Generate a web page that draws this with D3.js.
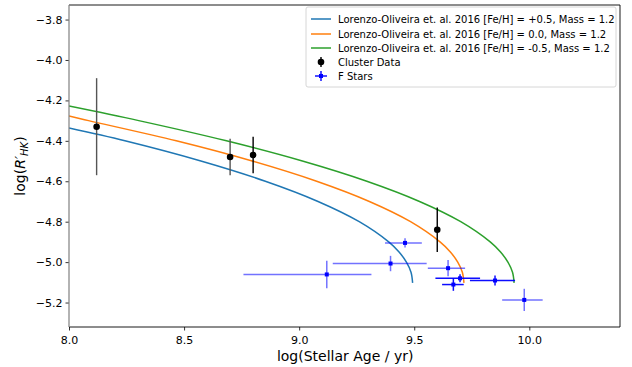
<!DOCTYPE html>
<html>
<head>
<meta charset="utf-8">
<script src="https://cdn.jsdelivr.net/npm/d3@7/dist/d3.min.js"></script>
<style>
  body { margin: 0; background: #fff; }
  text { font-family: "DejaVu Sans", sans-serif; }
</style>
</head>
<body>
<div id="chart-area"></div>
<script>
// model curves (log age, log R'HK)
var bluePlusAge  = [8.000, 8.243, 8.573, 8.853, 9.082, 9.261, 9.389, 9.434, 9.466, 9.486, 9.493];
var bluePlusR    = [-4.337, -4.40, -4.50, -4.60, -4.70, -4.80, -4.90, -4.95, -5.00, -5.05, -5.103];
var orangeSolAge = [8.000, 8.085, 8.466, 8.796, 9.076, 9.305, 9.484, 9.612, 9.657, 9.689, 9.709, 9.716];
var orangeSolR   = [-4.277, -4.30, -4.40, -4.50, -4.60, -4.70, -4.80, -4.90, -4.95, -5.00, -5.05, -5.103];
var greenMinAge  = [8.000, 8.303, 8.684, 9.014, 9.294, 9.523, 9.702, 9.830, 9.875, 9.907, 9.927, 9.934];
var greenMinR    = [-4.228, -4.30, -4.40, -4.50, -4.60, -4.70, -4.80, -4.90, -4.95, -5.00, -5.05, -5.103];

var modelNames = [
  "Lorenzo-Oliveira et. al. 2016 [Fe/H] = +0.5, Mass = 1.2",
  "Lorenzo-Oliveira et. al. 2016 [Fe/H] = 0.0, Mass = 1.2",
  "Lorenzo-Oliveira et. al. 2016 [Fe/H] = -0.5, Mass = 1.2"
];

// cluster data
var clusterAge = [8.12, 8.70, 8.80, 9.60];
var clusterR   = [-4.33, -4.48, -4.47, -4.84];
var clusterErr = [0.24, 0.09, 0.09, 0.11];

// F stars: age, log R'HK, age err (low / high), R err
var fAge   = [9.460, 9.397, 9.120, 9.647, 9.978];
var fR     = [-4.905, -5.007, -5.061, -5.030, -5.187];
var fAgeLo = [0.087, 0.251, 0.362, 0.088, 0.096];
var fAgeHi = [0.073, 0.157, 0.194, 0.074, 0.080];
var fRErr  = [0.023, 0.038, 0.068, 0.040, 0.055];

var f2Age   = [9.699, 9.670, 9.851];
var f2R     = [-5.080, -5.111, -5.091];
var f2AgeLo = [0.107, 0.049, 0.109];
var f2AgeHi = [0.087, 0.045, 0.087];
var f2RErr  = [0.020, 0.031, 0.025];

var xTicks = [8.0, 8.5, 9.0, 9.5, 10.0];
var yTicks = [-5.2, -5.0, -4.8, -4.6, -4.4, -4.2, -4.0, -3.8];

var margin = {left: 69, right: 12, top: 5, bottom: 40};
var W = 632, H = 367;
var width = W - margin.left - margin.right;
var height = H - margin.top - margin.bottom;

var svg = d3.select("#chart-area").append("svg")
  .attr("width", W).attr("height", H);

var g = svg.append("g")
  .attr("transform", "translate(" + margin.left + "," + margin.top + ")");

var x = d3.scaleLinear().domain([8.0, 10.394]).range([0, width]);
var y = d3.scaleLinear().domain([-5.321, -3.728]).range([height, 0]);

g.append("clipPath").attr("id", "clip")
  .append("rect").attr("width", width).attr("height", height);

var plot = g.append("g").attr("clip-path", "url(#clip)");

// model lines
var models = [
  {age: bluePlusAge, r: bluePlusR, color: "#1f77b4"},
  {age: orangeSolAge, r: orangeSolR, color: "#ff7f0e"},
  {age: greenMinAge, r: greenMinR, color: "#2ca02c"}
];
var line = d3.line()
  .x(function(d){ return x(d[0]); })
  .y(function(d){ return y(d[1]); })
  .curve(d3.curveCatmullRom);

models.forEach(function(m){
  var pts = m.age.map(function(a, i){ return [a, m.r[i]]; });
  plot.append("path")
    .attr("d", line(pts))
    .attr("fill", "none")
    .attr("stroke", m.color)
    .attr("stroke-width", 1.5);
});

// cluster points
clusterAge.forEach(function(a, i){
  plot.append("line")
    .attr("x1", x(a)).attr("x2", x(a))
    .attr("y1", y(clusterR[i] + clusterErr[i]))
    .attr("y2", y(clusterR[i] - clusterErr[i]))
    .attr("stroke", i < 2 ? "#555" : "#000")
    .attr("stroke-width", 1.4);
  plot.append("circle")
    .attr("cx", x(a)).attr("cy", y(clusterR[i]))
    .attr("r", 3.3).attr("fill", "#000");
});

// F stars
function drawStars(ages, rs, lo, hi, rerr, alpha){
  ages.forEach(function(a, i){
    var grp = plot.append("g").attr("opacity", alpha);
    grp.append("line")
      .attr("x1", x(a - lo[i])).attr("x2", x(a + hi[i]))
      .attr("y1", y(rs[i])).attr("y2", y(rs[i]))
      .attr("stroke", "#0000ff").attr("stroke-width", 1.5);
    grp.append("line")
      .attr("x1", x(a)).attr("x2", x(a))
      .attr("y1", y(rs[i] + rerr[i])).attr("y2", y(rs[i] - rerr[i]))
      .attr("stroke", "#0000ff").attr("stroke-width", 1.5);
    plot.append("rect")
      .attr("x", x(a) - 2).attr("y", y(rs[i]) - 2)
      .attr("width", 4).attr("height", 4)
      .attr("fill", "#0000ff");
  });
}
drawStars(fAge, fR, fAgeLo, fAgeHi, fRErr, 0.55);
drawStars(f2Age, f2R, f2AgeLo, f2AgeHi, f2RErr, 0.95);

// axes
var xAxis = d3.axisBottom(x).tickValues(xTicks).tickFormat(d3.format(".1f")).tickSizeOuter(0).tickSize(3.5);
var yAxis = d3.axisLeft(y).tickValues(yTicks).tickFormat(d3.format(".1f")).tickSizeOuter(0).tickSize(3.5);

var xg = g.append("g").attr("transform", "translate(0," + height + ")").call(xAxis);
var yg = g.append("g").call(yAxis);
[xg, yg].forEach(function(ax){
  ax.select(".domain").remove();
  ax.selectAll("text").attr("font-size", "11px").attr("fill", "#000")
    .style("font-family", "DejaVu Sans, sans-serif");
  ax.selectAll("line").attr("stroke", "#000").attr("stroke-width", 0.8);
});
xg.selectAll("text").attr("dy", "0.95em");

// frame
g.append("line").attr("x1", 0).attr("x2", width).attr("y1", 0).attr("y2", 0).attr("stroke", "#000").attr("stroke-width", 0.9);
g.append("line").attr("x1", width).attr("x2", width).attr("y1", 0).attr("y2", height).attr("stroke", "#000").attr("stroke-width", 0.9);
g.append("line").attr("x1", 0).attr("x2", width).attr("y1", height).attr("y2", height).attr("stroke", "#000").attr("stroke-width", 0.9);
g.append("line").attr("x1", 0).attr("x2", 0).attr("y1", 0).attr("y2", height).attr("stroke", "#808080").attr("stroke-width", 1.2);

// axis labels
svg.append("text")
  .attr("x", margin.left + x(9.0) + 46).attr("y", 361)
  .attr("text-anchor", "middle").attr("font-size", "14px")
  .text("log(Stellar Age / yr)");

var yl = svg.append("text")
  .attr("transform", "translate(25," + (margin.top + height / 2) + ") rotate(-90)")
  .attr("text-anchor", "middle").attr("font-size", "14px");
yl.append("tspan").text("log(");
yl.append("tspan").attr("font-style", "italic").text("R′");
yl.append("tspan").attr("font-style", "italic").attr("font-size", "10px").attr("dy", "3").text("HK");
yl.append("tspan").attr("dy", "-3").text(")");

// legend
var lg = svg.append("g").attr("transform", "translate(306,7)");
lg.append("rect").attr("width", 310).attr("height", 80).attr("rx", 2)
  .attr("fill", "#fff").attr("fill-opacity", 0.85)
  .attr("stroke", "#ccc").attr("stroke-width", 0.8);

var rowY = [12, 27, 41, 55, 69];
models.forEach(function(m, i){
  lg.append("line").attr("x1", 5).attr("x2", 25)
    .attr("y1", rowY[i]).attr("y2", rowY[i])
    .attr("stroke", m.color).attr("stroke-width", 1.5);
  lg.append("text").attr("x", 32).attr("y", rowY[i]).attr("dy", "0.35em")
    .attr("font-size", "10px").text(modelNames[i]);
});
// cluster legend marker
lg.append("line").attr("x1", 15).attr("x2", 15).attr("y1", rowY[3] - 5).attr("y2", rowY[3] + 5)
  .attr("stroke", "#000").attr("stroke-width", 1.4);
lg.append("circle").attr("cx", 15).attr("cy", rowY[3]).attr("r", 3.3).attr("fill", "#000");
lg.append("text").attr("x", 32).attr("y", rowY[3]).attr("dy", "0.35em")
  .attr("font-size", "10px").text("Cluster Data");
// F star legend marker
lg.append("line").attr("x1", 9).attr("x2", 21).attr("y1", rowY[4]).attr("y2", rowY[4])
  .attr("stroke", "#0000ff").attr("stroke-width", 1.4);
lg.append("line").attr("x1", 15).attr("x2", 15).attr("y1", rowY[4] - 5).attr("y2", rowY[4] + 5)
  .attr("stroke", "#0000ff").attr("stroke-width", 1.4);
lg.append("rect").attr("x", 13).attr("y", rowY[4] - 2).attr("width", 4).attr("height", 4).attr("fill", "#0000ff");
lg.append("text").attr("x", 32).attr("y", rowY[4]).attr("dy", "0.35em")
  .attr("font-size", "10px").text("F Stars");
</script>
</body>
</html>
